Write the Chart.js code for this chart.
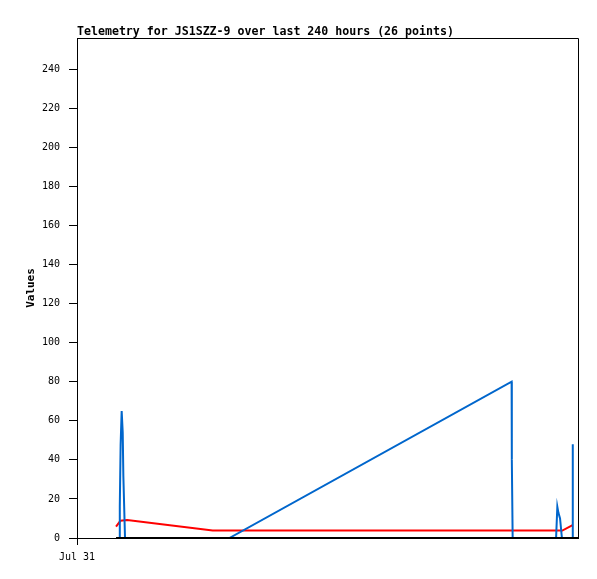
<!DOCTYPE html>
<html>
<head>
<meta charset="utf-8">
<script src="https://cdn.jsdelivr.net/npm/chart.js@4/dist/chart.umd.min.js"></script>
<style>
  html, body { margin: 0; padding: 0; background: #fff; }
  #wrap { width: 597px; height: 579px; }
</style>
</head>
<body>
<div id="wrap"><canvas id="grafica" width="597" height="579"></canvas></div>
<script>
// titulo y ejes
const TITULO = "Telemetry for JS1SZZ-9 over last 240 hours (26 points)";
const ETIQUETA_Y = "Values";
const ETIQUETA_X0 = "Jul 31";
const Y_TICKS = [0, 20, 40, 60, 80, 100, 120, 140, 160, 180, 200, 220, 240];

// serie roja (horas desde el inicio, valor)
const ROJO_H = [18.7, 20.8, 24.0, 65.0, 232.5, 237.4];
const ROJO_V = [5.8, 8.8, 9.2, 3.8, 3.8, 6.6];

// serie azul
const AZUL_H = [20.2, 20.5, 20.9, 21.4, 21.9, 22.2, 23.0, 73.0, 208.2, 208.3, 208.7,
                229.5, 230.1, 230.6, 231.4, 232.3, 237.4, 237.5];
const AZUL_V = [0, 16, 48, 65, 54, 32, 0, 0, 80, 40, 0,
                0, 16, 13, 10, 0, 0, 48];

// serie negra
const NEGRO_H = [18.7, 240];
const NEGRO_V = [0, 0];

function puntos(h, v) {
  return h.map((x, i) => ({ x, y: v[i] }));
}

const fuenteMono = "'DejaVu Sans Mono', 'Liberation Mono', monospace";

// marco y titulo
const marco = {
  id: "marco",
  beforeDatasetsDraw(chart) {
    const { ctx, chartArea: a } = chart;
    ctx.save();
    ctx.strokeStyle = "#000";
    ctx.lineWidth = 1;
    ctx.beginPath();
    ctx.moveTo(a.left, a.top + 0.5);
    ctx.lineTo(a.right + 0.5, a.top + 0.5);
    ctx.lineTo(a.right + 0.5, a.bottom);
    ctx.stroke();
    ctx.restore();
  },
  afterDraw(chart) {
    const { ctx, chartArea: a } = chart;
    ctx.save();
    ctx.fillStyle = "#000";
    ctx.font = "bold 11.6px " + fuenteMono;
    ctx.textBaseline = "middle";
    ctx.textAlign = "left";
    ctx.fillText(TITULO, a.left, a.top - 6);
    ctx.restore();
  }
};

new Chart(document.getElementById("grafica"), {
  type: "line",
  data: {
    datasets: [
      { data: puntos(ROJO_H, ROJO_V), borderColor: "#ff0000", borderWidth: 2, order: 3 },
      { data: puntos(AZUL_H, AZUL_V), borderColor: "#0066cc", borderWidth: 2, order: 2 },
      { data: puntos(NEGRO_H, NEGRO_V), borderColor: "#000000", borderWidth: 2, order: 1 }
    ]
  },
  options: {
    responsive: false,
    animation: false,
    elements: { point: { radius: 0 }, line: { tension: 0, borderCapStyle: "butt" } },
    layout: { padding: { top: 38, right: 19, bottom: 0, left: 0 } },
    plugins: { legend: { display: false }, tooltip: { enabled: false } },
    scales: {
      x: {
        type: "linear",
        min: 0,
        max: 240,
        afterBuildTicks: (s) => { s.ticks = [{ value: 0 }]; },
        afterFit: (s) => { s.height = 41; },
        ticks: {
          color: "#000",
          padding: 6,
          maxRotation: 0,
          font: { family: fuenteMono, size: 10 },
          callback: () => ETIQUETA_X0
        },
        grid: { drawOnChartArea: false, drawTicks: true, tickLength: 7, color: "#000" },
        border: { display: true, color: "#000", width: 1 }
      },
      y: {
        min: 0,
        max: 256,
        afterBuildTicks: (s) => { s.ticks = Y_TICKS.map((v) => ({ value: v })); },
        afterFit: (s) => { s.width = 77; },
        ticks: {
          color: "#000",
          padding: 9,
          font: { family: fuenteMono, size: 10 }
        },
        grid: { drawOnChartArea: false, drawTicks: true, tickLength: 8, color: "#000" },
        border: { display: true, color: "#000", width: 1 },
        title: {
          display: true,
          text: ETIQUETA_Y,
          color: "#000",
          padding: { top: 25, bottom: 0 },
          font: { family: fuenteMono, size: 11, weight: "bold" }
        }
      }
    }
  },
  plugins: [marco]
});
</script>
</body>
</html>
